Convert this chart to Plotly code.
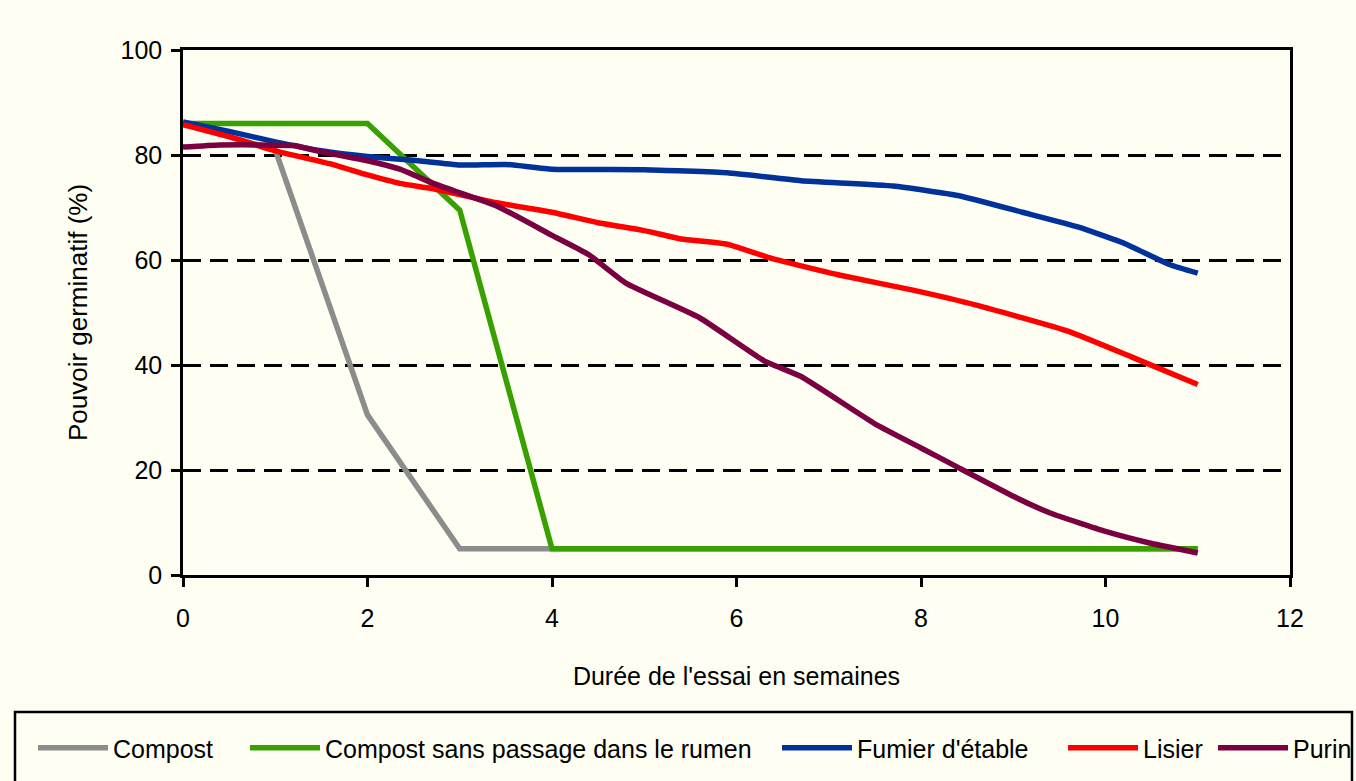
import plotly.graph_objects as go

# ---- data ----
compost_x = [0, 1, 2, 3, 4, 5, 6, 7, 8, 9, 10, 11]
compost_y = [86, 81, 30.5, 5, 5, 5, 5, 5, 5, 5, 5, 5]

compost_sr_x = [0, 1, 2, 3, 4, 5, 6, 7, 8, 9, 10, 11]
compost_sr_y = [86, 86, 86, 69.5, 5, 5, 5, 5, 5, 5, 5, 5]

fumier_x = [0, 0.5, 1, 1.5, 2, 2.5, 3, 3.5, 4, 5, 5.9, 6.7, 7.7, 8.4, 9.1, 9.7, 10.2, 10.7, 11]
fumier_y = [86.3, 84.5, 82.5, 80.8, 79.7, 79.0, 78.1, 78.2, 77.3, 77.2, 76.6, 75.1, 74.1, 72.3, 69.1, 66.3, 63.2, 59.1, 57.5]

lisier_x = [0, 0.5, 1, 1.6, 2, 2.35, 2.7, 3.4, 4, 4.5, 5, 5.4, 5.9, 6.4, 7.1, 7.9, 8.6, 9.6, 10.3, 11]
lisier_y = [85.8, 83.5, 80.8, 78.3, 76.2, 74.6, 73.6, 70.9, 69.1, 67.1, 65.6, 64.0, 63.0, 60.2, 57.2, 54.3, 51.4, 46.4, 41.4, 36.3]

purin_x = [0, 0.4, 1.2, 1.45, 2, 2.35, 2.7, 3, 3.4, 4, 4.4, 4.8, 5.6, 6.3, 6.7, 7.5, 8, 8.4, 9, 9.4, 10, 10.5, 11]
purin_y = [81.5, 81.9, 81.8, 80.8, 78.9, 77.3, 74.7, 72.8, 70.3, 64.7, 61.0, 55.6, 49.0, 40.8, 37.8, 28.8, 24.2, 20.5, 15.0, 11.8, 8.3, 6.0, 4.2]

series_names = ["Compost", "Compost sans passage dans le rumen", "Fumier d'étable", "Lisier", "Purin"]
series_colors = ["#8C8C8C", "#38A000", "#00329A", "#FF0000", "#7A0042"]
series_shapes = ["linear", "linear", "spline", "spline", "spline"]

x_ticks = [0, 2, 4, 6, 8, 10, 12]
y_ticks = [0, 20, 40, 60, 80, 100]

BG = "#FEFEF3"
FONT = "Liberation Sans"

# plot-area pixel frame used to place the legend boxes
PX_L, PX_R, PX_T, PX_B = 183, 1290, 50, 575
def px_x(p):
    return (p - PX_L) / (PX_R - PX_L)
def px_y(p):
    return (PX_B - p) / (PX_B - PX_T)

legend_ids = ["legend", "legend2", "legend3", "legend4", "legend5"]
legend_px = [33, 245, 777, 1063, 1213]

fig = go.Figure()
for name, color, shp, lid, xs, ys in zip(
    series_names, series_colors, series_shapes, legend_ids,
    [compost_x, compost_sr_x, fumier_x, lisier_x, purin_x],
    [compost_y, compost_sr_y, fumier_y, lisier_y, purin_y],
):
    line = dict(color=color, width=5.5, shape=shp)
    if shp == "spline":
        line["smoothing"] = 0.4
    fig.add_trace(go.Scatter(x=xs, y=ys, mode="lines", name=name, line=line, legend=lid))

# legend frame
fig.add_shape(type="rect", xref="paper", yref="paper",
              x0=px_x(15), x1=px_x(1352), y0=px_y(800), y1=px_y(712),
              line=dict(color="black", width=2.5), fillcolor="rgba(0,0,0,0)")

legends = {}
for lid, lx in zip(legend_ids, legend_px):
    legends[lid] = dict(orientation="h", x=px_x(lx), xanchor="left",
                        y=px_y(748), yanchor="middle",
                        bgcolor="rgba(0,0,0,0)", borderwidth=0,
                        itemwidth=70,
                        font=dict(family=FONT, size=25, color="black"))

fig.update_layout(
    width=1356, height=781,
    margin=dict(l=PX_L, r=1356 - PX_R, t=PX_T, b=781 - PX_B, autoexpand=False),
    paper_bgcolor=BG, plot_bgcolor=BG,
    font=dict(family=FONT, color="black", size=24),
    showlegend=True,
    xaxis=dict(range=[0, 12], tickvals=x_ticks, ticktext=[str(v) for v in x_ticks],
               showgrid=False, zeroline=False,
               showline=True, linecolor="black", linewidth=2.5, mirror=True,
               ticks="outside", ticklen=9, tickwidth=2.5, tickcolor="black",
               ticklabelstandoff=10,
               tickfont=dict(size=25),
               title=dict(text="Durée de l'essai en semaines", font=dict(size=25), standoff=37)),
    yaxis=dict(range=[0, 100], tickvals=y_ticks, ticktext=[str(v) for v in y_ticks],
               showgrid=True, gridcolor="black", gridwidth=2.5, griddash="18px,9px",
               zeroline=False,
               showline=True, linecolor="black", linewidth=2.5, mirror=True,
               ticks="outside", ticklen=9, tickwidth=2.5, tickcolor="black",
               ticklabelstandoff=4,
               tickfont=dict(size=25),
               title=dict(text="Pouvoir germinatif (%)", font=dict(size=26), standoff=26)),
    **legends,
)

fig.write_html("out.html", config={"displayModeBar": False},
               post_script="document.body.style.margin='0';document.body.style.background='%s';" % BG)
